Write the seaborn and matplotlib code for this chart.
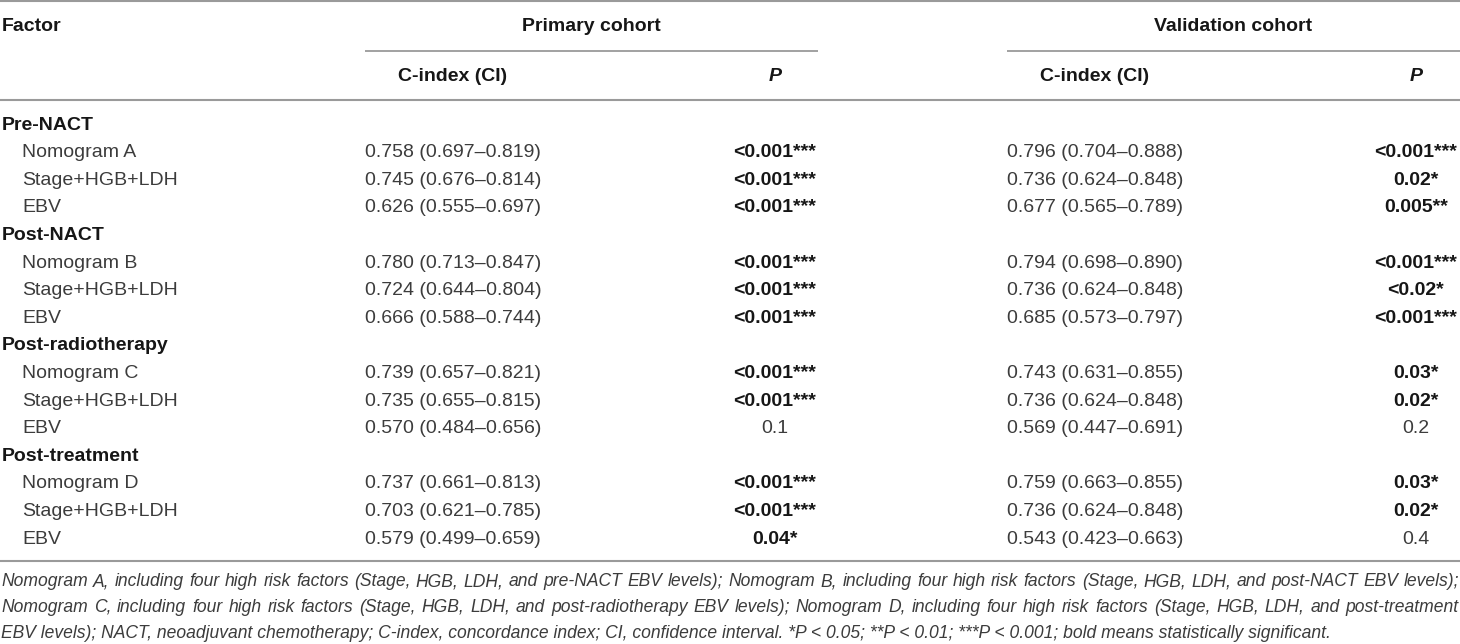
import matplotlib
matplotlib.use("Agg")
import matplotlib.pyplot as plt
import seaborn as sns

# ---------------- data ----------------
group_names = ["Pre-NACT", "Post-NACT", "Post-radiotherapy", "Post-treatment"]
factor_names = [
    ["Nomogram A", "Stage+HGB+LDH", "EBV"],
    ["Nomogram B", "Stage+HGB+LDH", "EBV"],
    ["Nomogram C", "Stage+HGB+LDH", "EBV"],
    ["Nomogram D", "Stage+HGB+LDH", "EBV"],
]
primary_ci = [
    ["0.758 (0.697–0.819)", "0.745 (0.676–0.814)", "0.626 (0.555–0.697)"],
    ["0.780 (0.713–0.847)", "0.724 (0.644–0.804)", "0.666 (0.588–0.744)"],
    ["0.739 (0.657–0.821)", "0.735 (0.655–0.815)", "0.570 (0.484–0.656)"],
    ["0.737 (0.661–0.813)", "0.703 (0.621–0.785)", "0.579 (0.499–0.659)"],
]
primary_p = [
    ["<0.001***", "<0.001***", "<0.001***"],
    ["<0.001***", "<0.001***", "<0.001***"],
    ["<0.001***", "<0.001***", "0.1"],
    ["<0.001***", "<0.001***", "0.04*"],
]
validation_ci = [
    ["0.796 (0.704–0.888)", "0.736 (0.624–0.848)", "0.677 (0.565–0.789)"],
    ["0.794 (0.698–0.890)", "0.736 (0.624–0.848)", "0.685 (0.573–0.797)"],
    ["0.743 (0.631–0.855)", "0.736 (0.624–0.848)", "0.569 (0.447–0.691)"],
    ["0.759 (0.663–0.855)", "0.736 (0.624–0.848)", "0.543 (0.423–0.663)"],
]
validation_p = [
    ["<0.001***", "0.02*", "0.005**"],
    ["<0.001***", "<0.02*", "<0.001***"],
    ["0.03*", "0.02*", "0.2"],
    ["0.03*", "0.02*", "0.4"],
]
col_header = "Factor"
cohort_headers = ["Primary cohort", "Validation cohort"]
sub_headers = ["C-index (CI)", "P"]
footnote_lines = [
    "Nomogram A, including four high risk factors (Stage, HGB, LDH, and pre-NACT EBV levels); Nomogram B, including four high risk factors (Stage, HGB, LDH, and post-NACT EBV levels);",
    "Nomogram C, including four high risk factors (Stage, HGB, LDH, and post-radiotherapy EBV levels); Nomogram D, including four high risk factors (Stage, HGB, LDH, and post-treatment",
    "EBV levels); NACT, neoadjuvant chemotherapy; C-index, concordance index; CI, confidence interval. *P < 0.05; **P < 0.01; ***P < 0.001; bold means statistically significant.",
]

# ---------------- style ----------------
sns.set_theme(style="white")
plt.rcParams["font.family"] = ["Liberation Sans", "DejaVu Sans"]

W, H = 1460, 644
fig = plt.figure(figsize=(W / 100, H / 100), dpi=100)
ax = fig.add_axes([0, 0, 1, 1])
ax.set_xlim(0, W)
ax.set_ylim(H, 0)
ax.axis("off")
fig.canvas.draw()
renderer = fig.canvas.get_renderer()


def text_width(s, size, **kw):
    t = ax.text(0, 0, s, fontsize=size, **kw)
    w = t.get_window_extent(renderer=renderer).width
    t.remove()
    return w


fs = 14.0
# footnote size: natural width of the first (justified) line fills the page
fs_fn = 12.0 * 1446.0 / text_width(footnote_lines[0], 12.0, fontstyle="italic")

line_col = "#9a9a9a"
txt_reg = "#3c3c3c"
txt_bold = "#161616"

# column layout (pixel positions)
x_factor = 2
x_indent = 22
x_ci = [453, 1095]
x_p = [775, 1416]
span = [(365, 818), (1007, 1460)]

y_top = 1
y_cohort = 26
y_span_line = 51
y_sub = 76
y_head_line = 100
y_first = 125
row_step = 27.6

# rules
ax.plot([0, W], [y_top, y_top], color=line_col, lw=1.5, solid_capstyle="butt")
ax.plot([0, W], [y_head_line, y_head_line], color=line_col, lw=1.5, solid_capstyle="butt")
for (a, b) in span:
    ax.plot([a, b], [y_span_line, y_span_line], color=line_col, lw=1.3, solid_capstyle="butt")

# headers
ax.text(x_factor, y_cohort, col_header, fontsize=fs, fontweight="bold", color=txt_bold,
        ha="left", va="center")
for k in range(2):
    ax.text((span[k][0] + span[k][1]) / 2, y_cohort, cohort_headers[k], fontsize=fs,
            fontweight="bold", color=txt_bold, ha="center", va="center")
    ax.text(x_ci[k], y_sub, sub_headers[0], fontsize=fs, fontweight="bold", color=txt_bold,
            ha="center", va="center")
    ax.text(x_p[k], y_sub, sub_headers[1], fontsize=fs,
            fontweight="bold", fontstyle="italic", color=txt_bold, ha="center", va="center")

# body
row = 0
for g, gname in enumerate(group_names):
    y = y_first + row * row_step
    ax.text(x_factor, y, gname, fontsize=fs, fontweight="bold", color=txt_bold,
            ha="left", va="center")
    row += 1
    for i, fname in enumerate(factor_names[g]):
        y = y_first + row * row_step
        ax.text(x_indent, y, fname, fontsize=fs, color=txt_reg, ha="left", va="center")
        for k, (cis, ps) in enumerate([(primary_ci, primary_p), (validation_ci, validation_p)]):
            ax.text(x_ci[k], y, cis[g][i], fontsize=fs, color=txt_reg, ha="center", va="center")
            pv = ps[g][i]
            bold = "*" in pv
            ax.text(x_p[k], y, pv, fontsize=fs, color=txt_bold if bold else txt_reg,
                    fontweight="bold" if bold else "normal", ha="center", va="center")
        row += 1

y_bottom_line = y_first + (row - 1) * row_step + 22
ax.plot([0, W], [y_bottom_line, y_bottom_line], color=line_col, lw=1.5, solid_capstyle="butt")

# footnote (justified lines except last)
fn_y0 = y_bottom_line + 21
fn_step = 25.5
x_left, x_right = 1, 1459
for li, line in enumerate(footnote_lines):
    y = fn_y0 + li * fn_step
    if li == len(footnote_lines) - 1:
        ax.text(x_left, y, line, fontsize=fs_fn, fontstyle="italic", color=txt_reg,
                ha="left", va="center")
        continue
    words = line.split(" ")
    arts = []
    widths = []
    for w in words:
        t = ax.text(0, y, w, fontsize=fs_fn, fontstyle="italic", color=txt_reg,
                    ha="left", va="center")
        bb = t.get_window_extent(renderer=renderer)
        arts.append(t)
        widths.append(bb.width)
    gap = (x_right - x_left - sum(widths)) / (len(words) - 1)
    x = x_left
    for t, wd in zip(arts, widths):
        t.set_x(x)
        x += wd + gap

fig.savefig("out.png", dpi=100)
